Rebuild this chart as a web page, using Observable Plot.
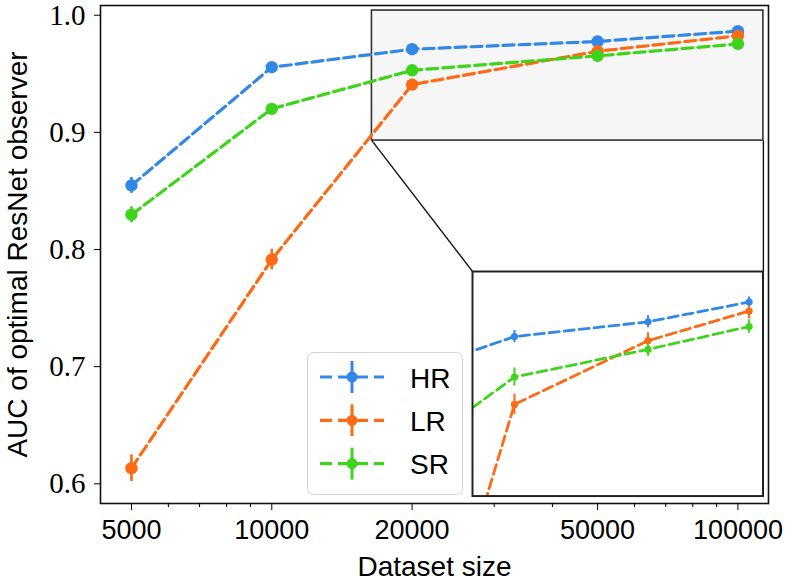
<!DOCTYPE html>
<html><head><meta charset="utf-8">
<script src="https://cdn.jsdelivr.net/npm/d3@7"></script>
<script src="https://cdn.jsdelivr.net/npm/@observablehq/plot@0.6"></script>
<style>
body{margin:0;background:#fff;}
#chart{position:relative;width:787px;height:583px;overflow:hidden;background:#fff;}
#chart svg{position:absolute;}
</style></head><body><div id="chart"></div>
<script>
// ---- data ----
const sizes = [5000, 10000, 20000, 50000, 100000];
const seriesNames = ["HR", "LR", "SR"];
const hrAUC = [0.8547, 0.9556, 0.9710, 0.9776, 0.9864];
const lrAUC = [0.6133, 0.7914, 0.9408, 0.9692, 0.9824];
const srAUC = [0.8297, 0.9201, 0.9530, 0.9653, 0.9755];
const hrErr = [0.0068, 0.0030, 0.0027, 0.0027, 0.0023];
const lrErr = [0.0114, 0.0088, 0.0045, 0.0035, 0.0035];
const srErr = [0.0068, 0.0030, 0.0040, 0.0030, 0.0030];
const colors = ["#3288e6", "#fd6a15", "#3fd41c"];
const xTicks = [5000, 10000, 20000, 50000, 100000];
const xMinorTicks = [6000, 7000, 8000, 9000, 30000, 40000, 60000, 70000, 80000, 90000];
const yTicks = [0.6, 0.7, 0.8, 0.9, 1.0];
const xLabel = "Dataset size";
const yLabel = "AUC of optimal ResNet observer";
const xDomain = [4291, 116300];
const yDomain = [0.5832, 1.0083];
const zoomX = [16400, 113400];
const zoomY = [0.893, 1.004];
const insetX = [15000, 110000];
const insetY = [0.9, 1.0];
const insetBoxX = [27000, 113400];
const insetBoxY = [0.5892, 0.7809];

const aucs = [hrAUC, lrAUC, srAUC];
const errs = [hrErr, lrErr, srErr];
const data = seriesNames.flatMap((s, i) => sizes.map((n, j) => ({series: s, size: n, auc: aucs[i][j], err: errs[i][j]})));
const zoomRect = [{x1: zoomX[0], x2: zoomX[1], y1: zoomY[0], y2: zoomY[1]}];
const connectors = [
  {x1: zoomX[0], y1: zoomY[0], x2: insetBoxX[0], y2: insetBoxY[1]},
  {x1: zoomX[1], y1: zoomY[0], x2: insetBoxX[1], y2: insetBoxY[1]}
];

const sans = "'Liberation Sans', Arial, sans-serif";
const serif = "'Liberation Serif', 'Times New Roman', serif";

const mainPlot = Plot.plot({
  width: 787, height: 583,
  marginLeft: 100, marginRight: 19, marginTop: 5, marginBottom: 80,
  x: {type: "log", domain: xDomain},
  y: {domain: yDomain},
  color: {domain: seriesNames, range: colors},
  style: {fontFamily: sans, background: "transparent", color: "#000"},
  marks: [
    Plot.rect(zoomRect, {x1: "x1", x2: "x2", y1: "y1", y2: "y2", fill: "#f6f6f6", stroke: "#333", strokeWidth: 1.6}),
    Plot.link(connectors, {x1: "x1", y1: "y1", x2: "x2", y2: "y2", stroke: "#111", strokeWidth: 1.4}),
    Plot.line(data, {x: "size", y: "auc", z: "series", stroke: "series", strokeWidth: 3.2, strokeDasharray: "11,5"}),
    Plot.ruleX(data, {x: "size", y1: d => d.auc - d.err, y2: d => d.auc + d.err, stroke: "series", strokeWidth: 2.6}),
    Plot.dot(data, {x: "size", y: "auc", fill: "series", r: 6.2}),
    Plot.frame({stroke: "#111", strokeWidth: 1.6}),
    Plot.axisX({ticks: xTicks, tickFormat: d => String(d), tickSize: 7, tickPadding: 9, fontSize: 27, label: null}),
    Plot.axisX({ticks: xMinorTicks, tickFormat: () => "", tickSize: 4, label: null}),
    Plot.axisY({ticks: yTicks, tickFormat: d3.format(".1f"), tickSize: 6, tickPadding: 9, fontSize: 29, fontFamily: serif, label: null}),
    Plot.text([xLabel], {text: d => d, frameAnchor: "bottom", dy: 64, fontSize: 28, textAnchor: "middle", lineAnchor: "middle"}),
    Plot.text([yLabel], {text: d => d, frameAnchor: "left", dx: -82, rotate: -90, fontSize: 28, textAnchor: "middle", lineAnchor: "middle"})
  ]
});

const chart = document.getElementById("chart");
mainPlot.style.left = "0px"; mainPlot.style.top = "0px";
chart.appendChild(mainPlot);

// ---- inset ----
const sx = mainPlot.scale("x"), sy = mainPlot.scale("y");
const boxLeft = sx.apply(insetBoxX[0]), boxRight = sx.apply(insetBoxX[1]);
const boxTop = sy.apply(insetBoxY[1]), boxBottom = sy.apply(insetBoxY[0]);
const insetPlot = Plot.plot({
  width: boxRight - boxLeft, height: boxBottom - boxTop, margin: 0,
  x: {type: "log", domain: insetX, axis: null},
  y: {domain: insetY, axis: null},
  color: {domain: seriesNames, range: colors},
  style: {background: "#fff", overflow: "visible"},
  marks: [
    Plot.line(data, {x: "size", y: "auc", z: "series", stroke: "series", strokeWidth: 2.8, strokeDasharray: "10,5", clip: true}),
    Plot.ruleX(data, {x: "size", y1: d => d.auc - d.err, y2: d => d.auc + d.err, stroke: "series", strokeWidth: 2, clip: true}),
    Plot.dot(data, {x: "size", y: "auc", fill: "series", r: 3.6, clip: true}),
    Plot.frame({stroke: "#222", strokeWidth: 2})
  ]
});
insetPlot.style.left = boxLeft + "px"; insetPlot.style.top = boxTop + "px";
insetPlot.style.overflow = "visible";
chart.appendChild(insetPlot);

// ---- legend ----
const lg = d3.select(chart).append("svg")
  .attr("width", 157).attr("height", 144)
  .style("left", "306.5px").style("top", "351.5px");
lg.append("rect").attr("x", 0.5).attr("y", 0.5).attr("width", 155).attr("height", 142).attr("rx", 6)
  .attr("fill", "#fff").attr("fill-opacity", 0.8).attr("stroke", "#d4d4d4").attr("stroke-width", 1);
seriesNames.forEach((s, i) => {
  const cy = 25 + i * 43.3;
  const g = lg.append("g");
  g.append("line").attr("x1", 13).attr("x2", 77).attr("y1", cy).attr("y2", cy)
    .attr("stroke", colors[i]).attr("stroke-width", 3.2).attr("stroke-dasharray", "12,6");
  g.append("line").attr("x1", 45).attr("x2", 45).attr("y1", cy - 16).attr("y2", cy + 16)
    .attr("stroke", colors[i]).attr("stroke-width", 3);
  g.append("circle").attr("cx", 45).attr("cy", cy).attr("r", 5.5).attr("fill", colors[i]);
  g.append("text").attr("x", 103).attr("y", cy + 10.5).text(s)
    .attr("font-family", sans).attr("font-size", 28).attr("fill", "#000");
});
</script>
</body></html>
